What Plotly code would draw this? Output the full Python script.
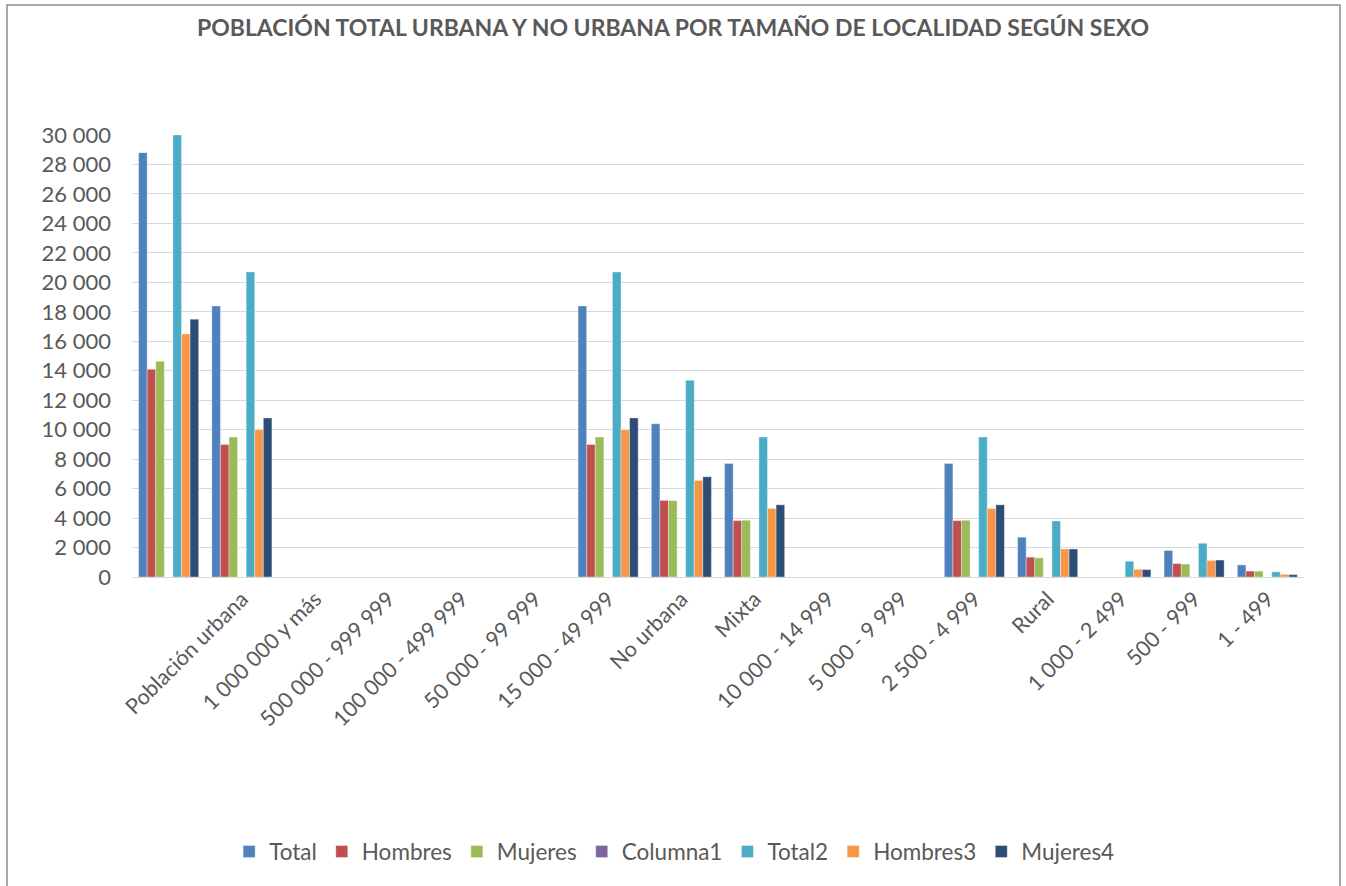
import plotly.graph_objects as go

categories = ["", "Población urbana", "1 000 000 y más", "500 000 - 999 999",
              "100 000 - 499 999", "50 000 - 99 999", "15 000 - 49 999",
              "No urbana", "Mixta", "10 000 - 14 999", "5 000 - 9 999",
              "2 500 - 4 999", "Rural", "1 000 - 2 499", "500 - 999", "1 - 499"]

total    = [28800, 18400, None, None, None, None, 18400, 10400, 7700, None, None, 7700, 2700, None, 1800, 820]
hombres  = [14100, 9000, None, None, None, None, 9000, 5200, 3830, None, None, 3830, 1350, None, 910, 400]
mujeres  = [14650, 9500, None, None, None, None, 9500, 5180, 3850, None, None, 3850, 1300, None, 880, 400]
columna1 = [None] * 16
total2   = [30000, 20700, None, None, None, None, 20700, 13350, 9500, None, None, 9500, 3800, 1070, 2290, 350]
hombres3 = [16500, 10000, None, None, None, None, 10000, 6550, 4650, None, None, 4650, 1900, 520, 1120, 180]
mujeres4 = [17500, 10800, None, None, None, None, 10800, 6800, 4900, None, None, 4900, 1900, 500, 1150, 160]

series = [
    ("Total", total, "#4F81BD"),
    ("Hombres", hombres, "#C0504D"),
    ("Mujeres", mujeres, "#9BBB59"),
    ("Columna1", columna1, "#8064A2"),
    ("Total2", total2, "#4BACC6"),
    ("Hombres3", hombres3, "#F79646"),
    ("Mujeres4", mujeres4, "#2C4D75"),
]

yticks = list(range(0, 30001, 2000))
FONT = "Lato, Open Sans, sans-serif"
GREY = "#595959"

x = list(range(len(categories)))
fig = go.Figure()
for name, vals, color in series:
    fig.add_trace(go.Bar(
        x=x, y=vals, name=name,
        marker=dict(color=color, line=dict(color="rgba(255,255,255,0.6)", width=0.6)),
    ))

fig.update_layout(
    width=1346, height=886,
    barmode="group", bargap=0.18, bargroupgap=0,
    plot_bgcolor="white", paper_bgcolor="white",
    margin=dict(l=132, r=42, t=135, b=309),
    font=dict(family=FONT, color=GREY, size=21),
    separators=", ",
    title=dict(text="<b>POBLACIÓN TOTAL URBANA Y NO URBANA POR TAMAÑO DE LOCALIDAD SEGÚN SEXO</b>",
               x=0.5, xanchor="center", y=1 - 28 / 886, yanchor="middle",
               font=dict(family=FONT, size=23, color=GREY)),
    legend=dict(orientation="h", x=0.463, xanchor="center", y=-0.622, yanchor="middle",
                font=dict(family=FONT, size=22.5, color=GREY), traceorder="normal",
                itemwidth=30),
    showlegend=True,
)

fig.update_xaxes(
    tickmode="array", tickvals=x, ticktext=categories,
    range=[-0.5, len(categories) - 0.5],
    tickangle=-45, showgrid=False, showline=True, linecolor="#D9D9D9", linewidth=1,
    ticks="", tickfont=dict(family=FONT, size=21.5, color=GREY),
)
fig.update_yaxes(
    range=[0, 30000], tickmode="array", tickvals=yticks, tickformat=",d",
    showgrid=True, gridcolor="#D9D9D9", gridwidth=1, zeroline=False,
    showline=False, ticks="", ticklabelstandoff=20,
    tickfont=dict(family=FONT, size=22, color=GREY),
)

fig.add_shape(type="rect", xref="paper", yref="paper",
              x0=(7 - 132) / 1172, x1=(1340 - 132) / 1172,
              y0=-0.75, y1=(577 - 5) / 442,
              line=dict(color="#8C8C8C", width=1.5), fillcolor="rgba(0,0,0,0)", layer="below")

fig.write_html("out.html", config={"displayModeBar": False},
               post_script="document.body.style.margin='0';document.body.style.overflow='hidden';")
